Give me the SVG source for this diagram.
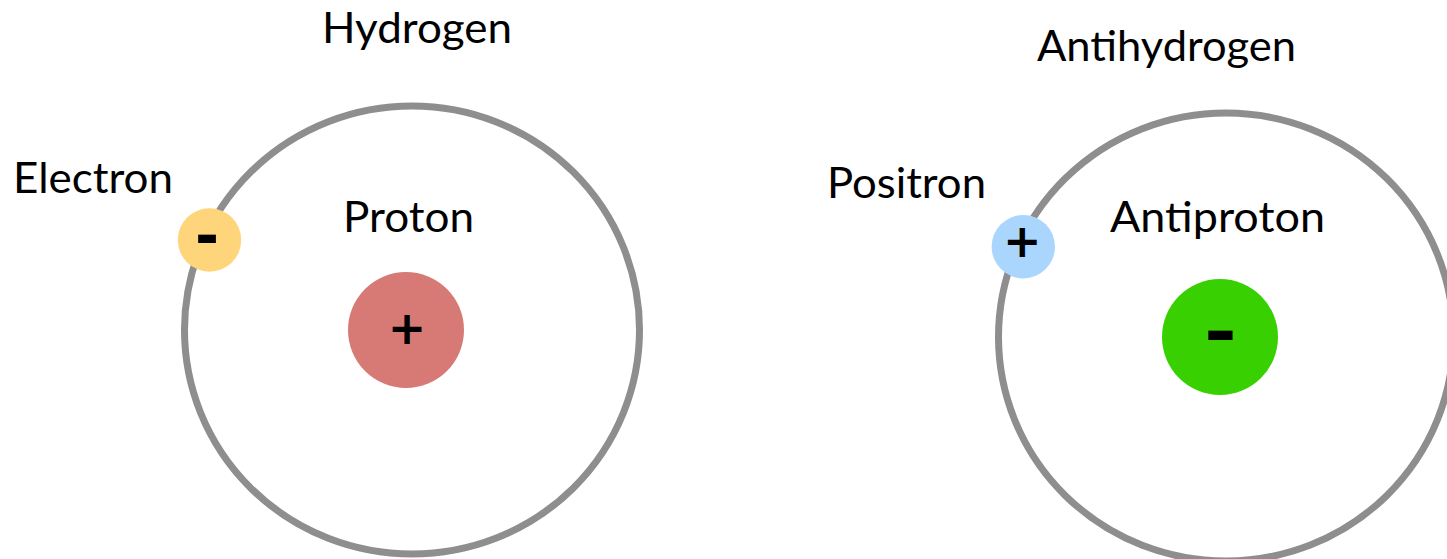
<svg xmlns="http://www.w3.org/2000/svg" width="1447" height="559" viewBox="0 0 1447 559">
<style>
.orbit{fill:none;stroke:#8e8e8e;stroke-width:7}
.lbl{font-family:Lato,"Open Sans","Liberation Sans",sans-serif;font-size:42px;fill:#000}
.sign{font-family:"DejaVu Sans","Liberation Sans",sans-serif;font-weight:bold;fill:#000;text-anchor:middle}
</style>
<rect width="1447" height="559" fill="#fff"/>
<g id="hydrogen">
  <ellipse class="orbit" cx="412" cy="330" rx="227.5" ry="224"/>
  <text class="lbl" x="322" y="43" textLength="190" lengthAdjust="spacingAndGlyphs">Hydrogen</text>
</g>
<g id="proton">
  <circle cx="406" cy="330" r="58" fill="#d77a76"/>
  <text class="sign" x="407" y="344" font-size="46">+</text>
  <text class="lbl" x="343" y="232" textLength="131" lengthAdjust="spacingAndGlyphs">Proton</text>
</g>
<g id="electron">
  <circle cx="209.5" cy="240" r="31.7" fill="#ffd57b"/>
  <text class="sign" x="207" y="256.3" font-size="58">-</text>
  <text class="lbl" x="13" y="193" textLength="160" lengthAdjust="spacingAndGlyphs">Electron</text>
</g>
<g id="antihydrogen">
  <ellipse class="orbit" cx="1226" cy="337" rx="227.5" ry="224"/>
  <text class="lbl" x="1037" y="61" textLength="259" lengthAdjust="spacingAndGlyphs">Antihydrogen</text>
</g>
<g id="antiproton">
  <circle cx="1220" cy="337" r="58" fill="#38d000"/>
  <text class="sign" transform="translate(1220.5,334.5) scale(1.2,1)" x="0" y="19.1" font-size="66">-</text>
  <text class="lbl" x="1110" y="232" textLength="215" lengthAdjust="spacingAndGlyphs">Antiproton</text>
</g>
<g id="positron">
  <circle cx="1023.3" cy="246.7" r="31.7" fill="#aad6fd"/>
  <text class="sign" x="1022.3" y="257.4" font-size="46">+</text>
  <text class="lbl" x="827" y="198" textLength="159" lengthAdjust="spacingAndGlyphs">Positron</text>
</g>
<g id="connectors"></g>
</svg>
